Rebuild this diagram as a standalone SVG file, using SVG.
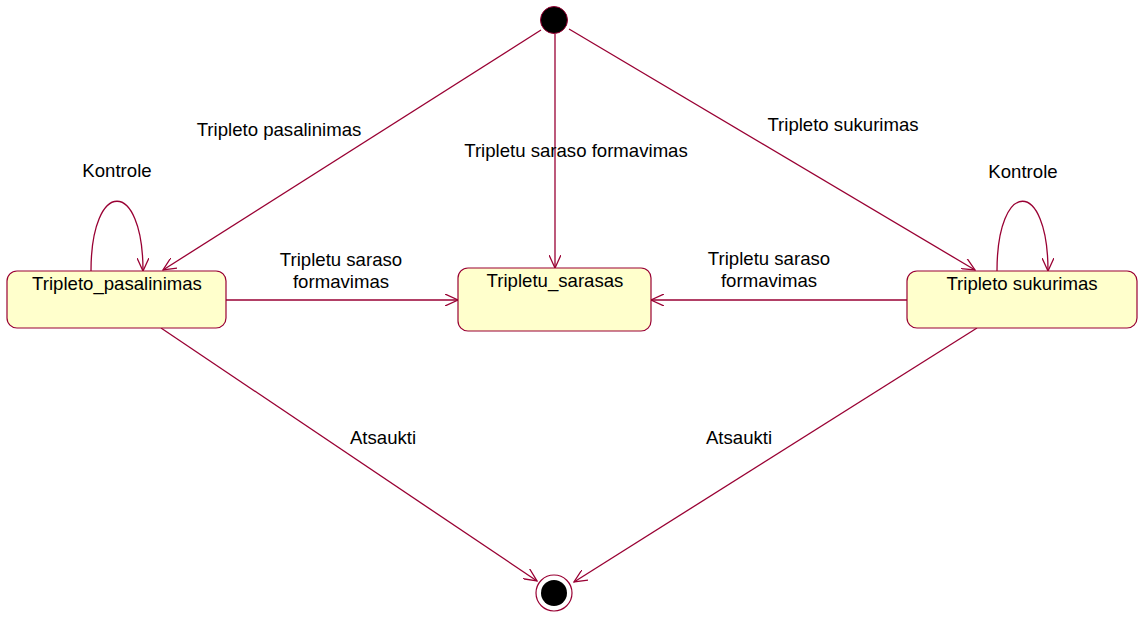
<svg xmlns="http://www.w3.org/2000/svg" width="1138" height="617" viewBox="0 0 1138 617">
  <defs>
    <style>
      .edge { fill: none; stroke: #990033; stroke-width: 1.3; }
      .state { fill: #ffffcc; stroke: #990033; stroke-width: 1.2; }
      .lbl { font-family: "Liberation Sans", Arial, sans-serif; font-size: 18.6px; fill: #000; text-anchor: middle; }
    </style>
    <marker id="open" viewBox="0 0 14 12" refX="13" refY="6" markerWidth="14" markerHeight="12" markerUnits="userSpaceOnUse" orient="auto">
      <path d="M0 0 L13 6 L0 12" fill="none" stroke="#990033" stroke-width="1.3"/>
    </marker>
  </defs>
  <rect width="1138" height="617" fill="#ffffff"/>

  <g id="connectors">
    <line class="edge" x1="541" y1="30" x2="163" y2="270" marker-end="url(#open)"/>
    <line class="edge" x1="555" y1="34" x2="555" y2="268" marker-end="url(#open)"/>
    <line class="edge" x1="569" y1="29" x2="975" y2="270" marker-end="url(#open)"/>
    <line class="edge" x1="226" y1="300" x2="458" y2="300" marker-end="url(#open)"/>
    <line class="edge" x1="907" y1="300" x2="651" y2="300" marker-end="url(#open)"/>
    <line class="edge" x1="161" y1="328" x2="537" y2="581" marker-end="url(#open)"/>
    <line class="edge" x1="977" y1="328" x2="574" y2="582" marker-end="url(#open)"/>
    <path class="edge" d="M91 271 C91 178 143 178 143 271" marker-end="url(#open)"/>
    <path class="edge" d="M997 271 C997 178 1048 178 1048 271" marker-end="url(#open)"/>

    <text class="lbl" x="279" y="136">Tripleto pasalinimas</text>
    <text class="lbl" x="576" y="157">Tripletu saraso formavimas</text>
    <text class="lbl" x="843" y="131">Tripleto sukurimas</text>
    <text class="lbl" x="117" y="177">Kontrole</text>
    <text class="lbl" x="1023" y="178">Kontrole</text>
    <text class="lbl" x="341" y="266">Tripletu saraso</text>
    <text class="lbl" x="341" y="288">formavimas</text>
    <text class="lbl" x="769" y="265">Tripletu saraso</text>
    <text class="lbl" x="769" y="287">formavimas</text>
    <text class="lbl" x="383" y="444">Atsaukti</text>
    <text class="lbl" x="739" y="444">Atsaukti</text>
  </g>

  <g id="start">
    <circle cx="554" cy="20" r="13.5" fill="#000" stroke="#990033" stroke-width="1"/>
  </g>

  <g id="tripleto_pasalinimas">
    <rect class="state" x="7" y="271" width="219" height="57" rx="10"/>
    <text class="lbl" x="117" y="290">Tripleto_pasalinimas</text>
  </g>

  <g id="tripletu_sarasas">
    <rect class="state" x="458" y="268" width="193" height="63" rx="10"/>
    <text class="lbl" x="555" y="287">Tripletu_sarasas</text>
  </g>

  <g id="tripleto_sukurimas">
    <rect class="state" x="907" y="271" width="230" height="57" rx="10"/>
    <text class="lbl" x="1022" y="290">Tripleto sukurimas</text>
  </g>

  <g id="end">
    <circle cx="554" cy="593" r="18" fill="#fff" stroke="#990033" stroke-width="1.2"/>
    <circle cx="554" cy="593" r="13" fill="#000"/>
  </g>
</svg>
